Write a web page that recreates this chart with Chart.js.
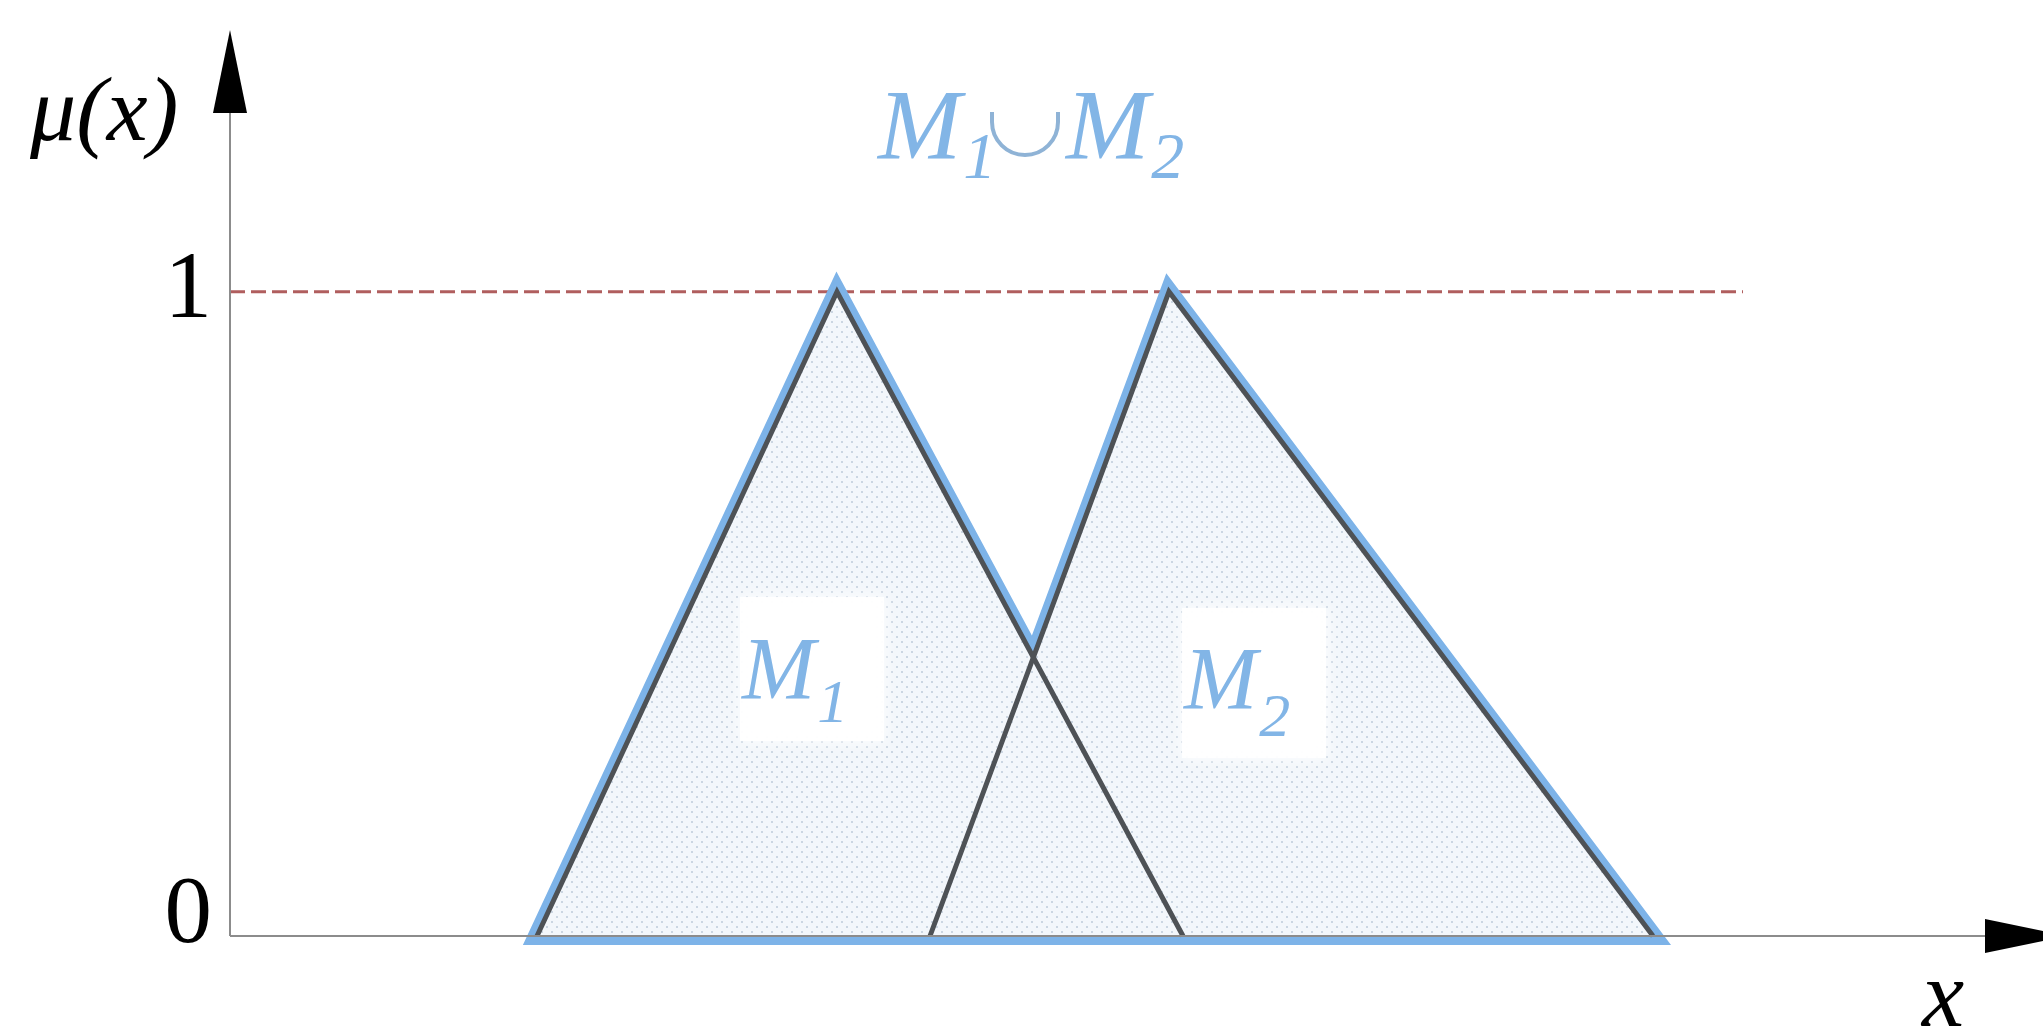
<!DOCTYPE html>
<html>
<head>
<meta charset="utf-8">
<script src="https://cdn.jsdelivr.net/npm/chart.js@4.4.0/dist/chart.umd.min.js"></script>
<style>
  html, body { margin: 0; padding: 0; background: #ffffff; }
  #wrap { width: 2043px; height: 1035px; position: relative; }
</style>
</head>
<body>
<div id="wrap"><canvas id="c"></canvas></div>
<script>
// ---- data ----
const m1X = [3.07, 6.07, 9.53];
const m1Y = [0, 1, 0];
const m2X = [7.00, 9.39, 14.23];
const m2Y = [0, 1, 0];
const refLineX = [0, 15.13];
const refLineY = [1, 1];
const yTickValues = [0, 1];
const yTickLabels = ['0', '1'];
const xAxisMax = 18.13;
const yAxisMax = 1.4;

const SERIF = '"Liberation Serif", "Times New Roman", "DejaVu Serif", serif';

const pts = (xs, ys) => xs.map((x, i) => ({ x: x, y: ys[i] }));
const m1 = pts(m1X, m1Y);
const m2 = pts(m2X, m2Y);

// intersection of M1 falling edge and M2 rising edge -> union max(M1, M2)
function intersect(p1, p2, p3, p4) {
  const d = (p1.x - p2.x) * (p3.y - p4.y) - (p1.y - p2.y) * (p3.x - p4.x);
  const a = p1.x * p2.y - p1.y * p2.x;
  const b = p3.x * p4.y - p3.y * p4.x;
  return { x: (a * (p3.x - p4.x) - (p1.x - p2.x) * b) / d,
           y: (a * (p3.y - p4.y) - (p1.y - p2.y) * b) / d };
}
const ip = intersect(m1[1], m1[2], m2[0], m2[1]);
const unionTop = [m1[0], m1[1], ip, m2[1], m2[2]];
const unionLoop = unionTop.concat([m1[0], m1[1]]);

// dotted fill pattern
function makePattern() {
  const t = document.createElement('canvas');
  t.width = 10; t.height = 10;
  const g = t.getContext('2d');
  g.fillStyle = '#f3f7fb';
  g.fillRect(0, 0, 10, 10);
  g.fillStyle = '#cbd6e2';
  g.fillRect(1, 1, 2, 2);
  g.fillRect(6, 6, 2, 2);
  return g.createPattern(t, 'repeat');
}

const decor = {
  id: 'decor',
  afterDatasetsDraw(chart) {
    const ctx = chart.ctx;
    const xs = chart.scales.x, ys = chart.scales.y;
    const x0 = xs.getPixelForValue(0), y0 = ys.getPixelForValue(0);
    ctx.save();
    // axes
    ctx.strokeStyle = '#8c8c8c';
    ctx.lineWidth = 2;
    ctx.beginPath();
    ctx.moveTo(x0, y0); ctx.lineTo(x0, 113);
    ctx.moveTo(x0, y0); ctx.lineTo(1985, y0);
    ctx.stroke();
    ctx.fillStyle = '#000';
    ctx.beginPath();
    ctx.moveTo(x0, 30); ctx.lineTo(x0 - 17, 113); ctx.lineTo(x0 + 17, 113); ctx.closePath();
    ctx.fill();
    ctx.beginPath();
    ctx.moveTo(2068, y0); ctx.lineTo(1985, y0 - 17); ctx.lineTo(1985, y0 + 17); ctx.closePath();
    ctx.fill();

    // tick labels
    ctx.fillStyle = '#000';
    ctx.font = '95px ' + SERIF;
    ctx.textAlign = 'right';
    ctx.textBaseline = 'alphabetic';
    yTickValues.forEach((v, i) => {
      const yy = ys.getPixelForValue(v);
      ctx.fillText(yTickLabels[i], 212, v === 0 ? yy + 6 : yy + 25);
    });
    // axis titles
    ctx.textAlign = 'left';
    ctx.font = 'italic 92px ' + SERIF;
    ctx.fillText('\u03bc(x)', 30, 140);
    ctx.font = 'italic 95px ' + SERIF;
    ctx.fillText('x', 1922, 1026);

    // white label boxes
    ctx.save();
    ctx.fillStyle = 'rgba(255,255,255,0.9)';
    ctx.shadowColor = '#ffffff';
    ctx.shadowBlur = 14;
    ctx.fillRect(740, 597, 144, 144);
    ctx.fillRect(1182, 608, 144, 150);
    ctx.restore();

    const blue = '#82b5e6';
    function mLabel(x, y, sub, big, small, drop) {
      ctx.fillStyle = blue;
      ctx.font = 'italic ' + big + 'px ' + SERIF;
      ctx.fillText('M', x, y);
      const w = ctx.measureText('M').width;
      ctx.font = 'italic ' + small + 'px ' + SERIF;
      ctx.fillText(sub, x + w + 2, y + drop);
      return x + w + 2 + ctx.measureText(sub).width;
    }
    mLabel(742, 698, '1', 88, 62, 24);
    mLabel(1184, 708, '2', 88, 62, 28);

    // union title
    mLabel(878, 158, '1', 100, 66, 20);
    ctx.strokeStyle = '#8fb3d6';
    ctx.lineWidth = 4;
    ctx.beginPath();
    ctx.moveTo(992, 112);
    ctx.lineTo(992, 122);
    ctx.arc(1025, 122, 33, Math.PI, 0, true);
    ctx.lineTo(1058, 112);
    ctx.stroke();
    mLabel(1066, 158, '2', 100, 66, 20);
    ctx.restore();
  }
};

function build() {
  new Chart(document.getElementById('c'), {
    type: 'line',
    data: {
      datasets: [
        { label: 'ref', data: pts(refLineX, refLineY), borderColor: '#b05e5e', borderWidth: 3,
          borderDash: [15, 6], pointRadius: 0, fill: false, order: 5 },
        { label: 'unionOutline', data: unionLoop, borderColor: '#7db3e8', borderWidth: 18,
          borderJoinStyle: 'miter', pointRadius: 0, fill: false, order: 4 },
        { label: 'unionFill', data: unionTop, borderWidth: 0, borderColor: 'rgba(0,0,0,0)',
          backgroundColor: makePattern(), pointRadius: 0, fill: 'origin', order: 3 },
        { label: 'M1', data: m1, borderColor: '#4e5256', borderWidth: 5, borderJoinStyle: 'miter',
          pointRadius: 0, fill: false, order: 2 },
        { label: 'M2', data: m2, borderColor: '#4e5256', borderWidth: 5, borderJoinStyle: 'miter',
          pointRadius: 0, fill: false, order: 1 }
      ]
    },
    options: {
      responsive: true,
      maintainAspectRatio: false,
      devicePixelRatio: 1,
      animation: false,
      clip: false,
      layout: { padding: { left: 230, right: 0, top: 34, bottom: 99 } },
      scales: {
        x: { type: 'linear', min: 0, max: xAxisMax, display: false },
        y: { type: 'linear', min: 0, max: yAxisMax, display: false }
      },
      plugins: { legend: { display: false }, tooltip: { enabled: false } },
      elements: { line: { tension: 0 } }
    },
    plugins: [decor]
  });
}

Promise.all([
  document.fonts.load('italic 92px "Liberation Serif"'),
  document.fonts.load('95px "Liberation Serif"')
]).catch(() => {}).then(build);
</script>
</body>
</html>
